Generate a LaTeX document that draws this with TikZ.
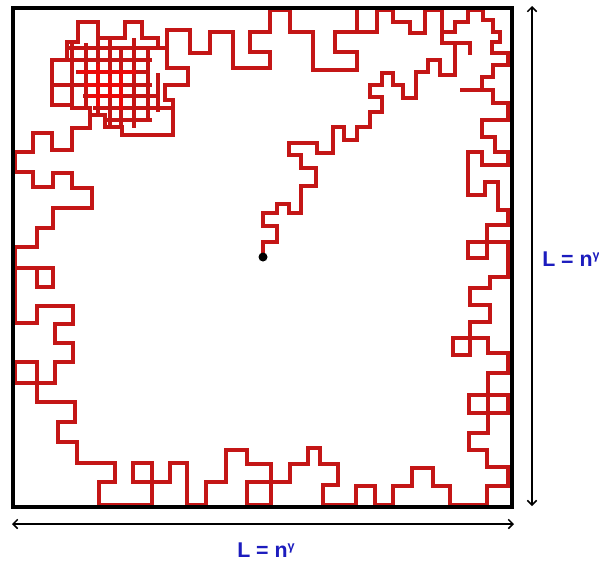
\documentclass[tikz,border=0pt]{standalone}
\usepackage{fontspec}
\setmainfont{Liberation Sans}
\usetikzlibrary{arrows.meta}
\definecolor{walkred}{RGB}{196,22,22}
\definecolor{hotred}{RGB}{235,10,10}
\definecolor{labblue}{RGB}{28,28,190}
\tikzset{
  walkline/.style={draw=walkred, line width=2.4pt, line join=miter, line cap=rect},
  hotline/.style={draw=hotred, line width=2.7pt, line cap=rect},
  frame/.style={draw=black, line width=3pt},
  dimarrow/.style={draw=black, line width=1.1pt, {Straight Barb[length=3.5pt,width=7pt]}-{Straight Barb[length=3.5pt,width=7pt]}},
  dimlabel/.style={text=labblue, font=\fontsize{16}{18}\selectfont\bfseries, inner sep=0pt},
}
\newcommand{\gsup}{\raisebox{0.62ex}{\fontsize{9.5}{9.5}\selectfont\bfseries γ}}
\newcommand{\clusteroutline}{(67,42)--(78,42)--(78,22)--(98,22)--(98,38)--(125,38)--(125,22)--(142,22)--(142,38)--(158,38)--(158,48)--(167,48)--(167,68)--(188,68)--(188,85)--(165,85)--(165,100)--(173,100)--(173,135)--(122,135)--(122,127)--(105,127)--(105,115)--(90,115)--(90,108)--(72,108)--(72,105)--(52,105)--(52,60)--(67,60)--cycle}
\begin{document}
\begin{tikzpicture}[x=0.75pt,y=-0.75pt]
\useasboundingbox (0,0) rectangle (599,561);
\fill[white] (0,0) rectangle (599,561);
% corners of the box
\coordinate (tl) at (13,8);
\coordinate (br) at (512,507);
% dimension arrow end points
\coordinate (vt) at (532,6);
\coordinate (vb) at (532,506);
\coordinate (hl) at (12,524);
\coordinate (hr) at (514,524);

% ---------- random walk ----------
% tangled cluster (top left)
\begin{scope}
\clip \clusteroutline;
\draw[walkline] (67,48)--(160,48) (52,60)--(150,60) (78,72)--(145,72) (52,85)--(150,85)
 (85,96)--(158,96) (95,108)--(170,108) (105,120)--(150,120);
\draw[walkline] (72,42)--(72,110) (86,45)--(86,112) (98,22)--(98,115) (110,38)--(110,127)
 (121,50)--(121,128) (134,40)--(134,126) (148,48)--(148,120) (158,75)--(158,110);
\draw[hotline] (80,72)--(134,72) (86,85)--(121,85) (90,96)--(121,96)
 (98,66)--(98,104) (121,72)--(121,108) (110,78)--(110,96);
\end{scope}
\draw[walkline] \clusteroutline;
\draw[walkline] (167,30)--(167,48);
% exit of the cluster, down the left side
\draw[walkline] (90,112)--(90,128)--(72,128)--(72,150)--(52,150)--(52,133)--(33,133)--(33,152)
 --(15,152)--(15,172)--(33,172)--(33,187)--(53,187)--(53,173)--(72,173)--(72,188)--(92,188)
 --(92,208)--(53,208)--(53,228)--(37,228)--(37,247)--(15,247)--(15,268)--(53,268)--(53,287)
 --(37,287)--(37,268);
\draw[walkline] (15,268)--(15,323)--(37,323)--(37,306)--(73,306)--(73,324)--(55,324)--(55,343)
 --(73,343)--(73,362)--(55,362)--(55,383)--(15,383)--(15,362)--(37,362)--(37,402)--(75,402)
 --(75,422)--(58,422)--(58,442)--(77,442)--(77,463)--(115,463)--(115,482)--(99,482)--(99,505)
 --(152,505)--(152,463)--(133,463)--(133,482)--(170,482)--(170,463)--(187,463)--(187,505)
 --(206,505)--(206,482)--(226,482)--(226,450)--(247,450)--(247,464)--(271,464)--(271,505)
 --(247,505)--(247,482)--(290,482)--(290,464)--(308,464)--(308,448)--(320,448)--(320,464)
 --(338,464)--(338,485)--(323,485)--(323,505)--(356,505)--(356,486)--(375,486)--(375,505)
 --(393,505)--(393,486)--(412,486)--(412,468)--(433,468)--(433,486)--(450,486)--(450,505)
 --(487,505)--(487,486)--(508,486)--(508,467)--(487,467)--(487,450)--(469,450)--(469,433)
 --(488,433)--(488,413)--(469,413)--(469,395)--(508,395)--(508,413)--(488,413);
% up the right side
\draw[walkline] (488,413)--(488,373)--(508,373)--(508,353)--(488,353)--(488,338)--(470,338)
 --(470,355)--(453,355)--(453,338)--(470,338)--(470,322)--(490,322)--(490,305)--(470,305)
 --(470,288)--(490,288)--(490,277)--(508,277)--(508,242)--(487,242)--(487,258)--(468,258)
 --(468,242)--(487,242)--(487,225)--(508,225)--(508,210)--(498,210)--(498,182)--(485,182)
 --(485,195)--(468,195)--(468,152)--(482,152)--(482,165)--(508,165)--(508,152)--(495,152)
 --(495,137)--(482,137)--(482,120)--(508,120)--(508,103)--(493,103)--(493,90)--(482,90)
 --(482,77)--(493,77)--(493,65)--(508,65)--(508,53)--(492,53)--(492,42)--(500,42)--(500,32)
 --(493,32)--(493,20)--(483,20)--(483,10)--(468,10)--(468,22)--(455,22)--(455,32)--(442,32);
\draw[walkline] (462,90)--(482,90);
% along the top
\draw[walkline] (442,32)--(442,10)--(425,10)--(425,33)--(410,33)--(410,22)--(393,22)--(393,10)
 --(377,10)--(377,32)--(335,32)--(335,52)--(357,52)--(357,70)--(313,70)--(313,32)--(290,32)
 --(290,10)--(270,10)--(270,32)--(250,32)--(250,52)--(270,52)--(270,68)--(233,68)--(233,32)
 --(210,32)--(210,53)--(190,53)--(190,30)--(167,30);
\draw[walkline] (357,32)--(357,10);
\draw[walkline] (442,32)--(442,43)--(470,43)--(470,53);
% the branch down to the start point
\draw[walkline] (455,43)--(455,75)--(440,75)--(440,60)--(428,60)--(428,72)--(416,72)--(416,98)
 --(403,98)--(403,85)--(393,85)--(393,73)--(382,73)--(382,85)--(370,85)--(370,97)--(382,97)
 --(382,112)--(370,112)--(370,127)--(357,127)--(357,140)--(344,140)--(344,127)--(333,127)
 --(333,153)--(317,153)--(317,143)--(289,143)--(289,155)--(301,155)--(301,168)--(316,168)
 --(316,186)--(301,186)--(301,213)--(289,213)--(289,204)--(277,204)--(277,213)--(263,213)
 --(263,226)--(277,226)--(277,242)--(263,242)--(263,257);
% start point
\fill[black] (263,257) circle[radius=4.5];

% ---------- box ----------
\draw[frame] (tl) rectangle (br);

% ---------- dimension arrows ----------
\draw[dimarrow] (vt) -- (vb);
\draw[dimarrow] (hl) -- (hr);
\node[dimlabel, anchor=base west] (lright) at (542,266) {L = n\gsup};
\node[dimlabel, anchor=base west] (lbottom) at (237,557) {L = n\gsup};
\end{tikzpicture}
\end{document}
